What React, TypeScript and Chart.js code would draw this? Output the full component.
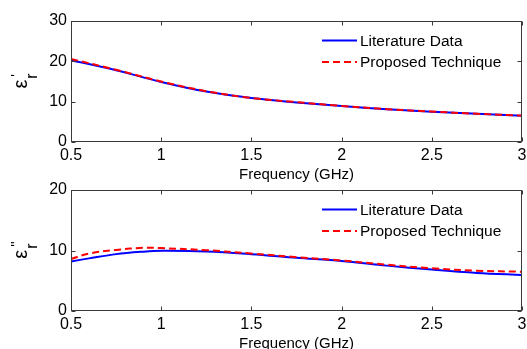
import React, { useEffect, useRef } from 'react';
import { Chart, registerables } from 'chart.js';

Chart.register(...registerables);

// ---- data ----
const freqReal = [0.5, 0.75, 1.0, 1.25, 1.5, 1.75, 2.0, 2.25, 2.5, 2.75, 3.0];
const realLiterature = [20.3, 17.8, 14.9, 12.5, 10.9, 9.8, 8.9, 8.1, 7.5, 7.0, 6.5];
const realProposed = [20.6, 17.9, 15.0, 12.6, 10.9, 9.9, 8.95, 8.15, 7.55, 7.0, 6.55];
const freqImag = [0.5, 0.6, 0.75, 0.9, 1.0, 1.25, 1.5, 1.75, 2.0, 2.25, 2.5, 2.75, 3.0];
const imagLiterature = [8.2, 8.7, 9.4, 9.8, 9.95, 9.85, 9.4, 8.8, 8.25, 7.5, 6.85, 6.3, 5.95];
const imagProposed = [8.6, 9.5, 10.1, 10.45, 10.4, 10.05, 9.5, 8.9, 8.35, 7.65, 7.05, 6.65, 6.5];
const seriesLabels = ['Literature Data', 'Proposed Technique'];
const xTitle = 'Frequency (GHz)';
const xTicks = [0.5, 1, 1.5, 2, 2.5, 3];

const FONT = '"Liberation Sans", Arial, Helvetica, sans-serif';
const AXIS_COLOR = '#3a3a3a';

const framePlugin = {
  id: 'matlabFrame',
  afterDraw(chart: any) {
    const { ctx, chartArea: a, scales } = chart;
    const L = Math.round(a.left) + 0.5;
    const R = Math.round(a.right) - 0.5;
    const T = Math.round(a.top) + 0.5;
    const B = Math.round(a.bottom) - 0.5;
    ctx.save();
    ctx.strokeStyle = AXIS_COLOR;
    ctx.lineWidth = 1;
    ctx.strokeRect(L, T, R - L, B - T);
    const tl = 4;
    ctx.beginPath();
    scales.x.ticks.forEach((t: any) => {
      const x = Math.round(scales.x.getPixelForValue(t.value)) + 0.5;
      ctx.moveTo(x, B); ctx.lineTo(x, B - tl);
      ctx.moveTo(x, T); ctx.lineTo(x, T + tl);
    });
    scales.y.ticks.forEach((t: any) => {
      const y = Math.round(scales.y.getPixelForValue(t.value)) + 0.5;
      ctx.moveTo(L, y); ctx.lineTo(L + tl, y);
      ctx.moveTo(R, y); ctx.lineTo(R - tl, y);
    });
    ctx.stroke();
    ctx.restore();
  },
};

const legendPlugin = {
  id: 'matlabLegend',
  afterDraw(chart: any) {
    const { ctx, chartArea: a } = chart;
    ctx.save();
    ctx.font = `15.5px ${FONT}`;
    ctx.textBaseline = 'middle';
    ctx.fillStyle = '#000';
    chart.data.datasets.forEach((ds: any, i: number) => {
      const y = a.top + 19.5 + i * 21.5;
      const x0 = a.right - 200;
      const x1 = a.right - 165;
      ctx.strokeStyle = ds.borderColor;
      ctx.lineWidth = 2;
      ctx.setLineDash(ds.borderDash || []);
      ctx.beginPath();
      ctx.moveTo(x0, y);
      ctx.lineTo(x1, y);
      ctx.stroke();
      ctx.setLineDash([]);
      ctx.fillText(ds.label, a.right - 162, y + 1);
    });
    ctx.restore();
  },
};

const yLabelPlugin = {
  id: 'epsLabel',
  afterDraw(chart: any, _args: any, opts: any) {
    const { ctx, chartArea: a } = chart;
    const cy = (a.top + a.bottom) / 2;
    ctx.save();
    ctx.translate(27, cy);
    ctx.rotate(-Math.PI / 2);
    ctx.fillStyle = '#000';
    ctx.textBaseline = 'alphabetic';
    ctx.font = `20px ${FONT}`;
    const wE = ctx.measureText('ε').width;
    ctx.font = `16px ${FONT}`;
    const wR = ctx.measureText('r').width;
    ctx.font = `14px ${FONT}`;
    const wP = ctx.measureText(opts.primes).width;
    const total = wE + Math.max(wR, wP + 2);
    const start = -total / 2;
    ctx.font = `20px ${FONT}`;
    ctx.fillText('ε', start, 0);
    ctx.font = `16px ${FONT}`;
    ctx.fillText('r', start + wE + 1, 10);
    ctx.font = `14px ${FONT}`;
    ctx.fillText(opts.primes, start + wE + 3, -6);
    ctx.restore();
  },
};

function Panel({ top, freq, literature, proposed, yMax, primes }: any) {
  const ref = useRef<HTMLCanvasElement | null>(null);
  useEffect(() => {
    if (!ref.current) return;
    const chart = new Chart(ref.current, {
      type: 'line',
      data: {
        datasets: [
          {
            label: seriesLabels[0],
            data: freq.map((f: number, i: number) => ({ x: f, y: literature[i] })),
            borderColor: '#0000ff',
            borderWidth: 2,
            pointRadius: 0,
            tension: 0.35,
            order: 1,
          },
          {
            label: seriesLabels[1],
            data: freq.map((f: number, i: number) => ({ x: f, y: proposed[i] })),
            borderColor: '#ff0000',
            borderWidth: 2,
            borderDash: [7, 4],
            pointRadius: 0,
            tension: 0.35,
            order: 0,
          },
        ],
      },
      options: {
        animation: false,
        responsive: false,
        maintainAspectRatio: false,
        layout: { padding: { left: 0, top: 21, right: 5, bottom: 0 } },
        plugins: {
          legend: { display: false },
          tooltip: { enabled: false },
          epsLabel: { primes },
        } as any,
        scales: {
          x: {
            type: 'linear',
            min: 0.5,
            max: 3,
            afterBuildTicks: (s: any) => { s.ticks = xTicks.map((v) => ({ value: v })); },
            grid: { display: false, drawTicks: false },
            border: { display: false },
            ticks: {
              color: '#000',
              font: { family: FONT, size: 16 },
              padding: 4,
              maxRotation: 0,
              autoSkip: false,
              callback: (v: any) => String(v),
            },
            title: { display: true, text: xTitle, color: '#000', font: { family: FONT, size: 15 }, padding: { top: 0, bottom: 1 } },
            afterFit: (s: any) => { s.height = 43; s.paddingLeft = 0; s.paddingRight = 0; },
          },
          y: {
            type: 'linear',
            min: 0,
            max: yMax,
            ticks: { stepSize: 10, color: '#000', font: { family: FONT, size: 16 }, padding: 4 },
            grid: { display: false, drawTicks: false },
            border: { display: false },
            afterFit: (s: any) => { s.width = 71; s.paddingTop = 0; s.paddingBottom = 0; },
          },
        },
      } as any,
      plugins: [framePlugin, legendPlugin, yLabelPlugin],
    });
    return () => chart.destroy();
  }, []);
  return (
    <canvas
      ref={ref}
      width={527}
      height={185}
      style={{ position: 'absolute', left: 0, top, width: 527, height: 185 }}
    />
  );
}

export default function App() {
  return (
    <div style={{ position: 'fixed', left: 0, top: 0, width: 527, height: 349, overflow: 'hidden', background: '#fff' }}>
      <Panel top={0} freq={freqReal} literature={realLiterature} proposed={realProposed} yMax={30} primes="'" />
      <Panel top={169} freq={freqImag} literature={imagLiterature} proposed={imagProposed} yMax={20} primes="''" />
    </div>
  );
}
